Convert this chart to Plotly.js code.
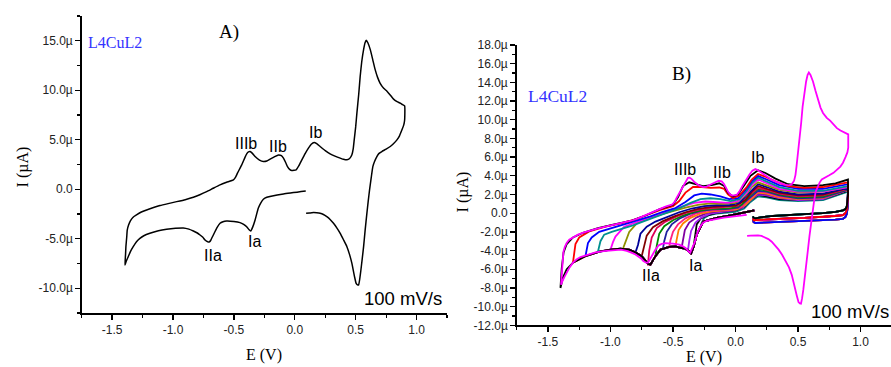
<!DOCTYPE html>
<html><head><meta charset="utf-8">
<script src="https://cdn.plot.ly/plotly-3.0.1.min.js"></script>
<style>html,body{margin:0;padding:0;background:#fff;} #chart{width:891px;height:367px;}</style>
</head><body><div id="chart"></div>
<script>
// ---------- Panel A (and the magenta full scan of panel B) ----------
const aE = [0.09,-0.093,-0.23,-0.258,-0.28,-0.30,-0.326,-0.345,-0.362,-0.375,-0.395,-0.42,-0.45,-0.50,-0.56,-0.59,-0.614,-0.64,-0.669,-0.69,-0.70,-0.715,-0.737,-0.755,-0.778,-0.80,-0.833,-0.87,-0.916,-0.98,-1.053,-1.12,-1.19,-1.24,-1.272,-1.30,-1.327,-1.35,-1.368,-1.385,-1.395,
 -1.39,-1.387,-1.38,-1.376,-1.365,-1.349,-1.33,-1.30,-1.26,-1.217,-1.16,-1.107,-1.04,-0.97,-0.9,-0.833,-0.78,-0.724,-0.67,-0.614,-0.56,-0.504,-0.485,-0.471,-0.436,-0.41,-0.395,-0.38,-0.367,-0.35,-0.326,-0.29,-0.258,-0.23,-0.203,-0.165,-0.134,-0.11,-0.093,-0.075,-0.06,-0.04,-0.025,0.011,0.035,0.058,0.085,0.112,0.135,0.159,0.18,0.208,0.25,0.29,0.33,0.373,0.40,0.428,0.45,0.469,0.48,0.488,0.50,0.51,0.525,0.537,0.55,0.565,0.577,0.587,0.60,0.62,0.64,0.66,0.68,0.70,0.73,0.757,0.785,0.811,0.84,0.866,0.885,0.902,
 0.902,0.895,0.88,0.86,0.839,0.81,0.784,0.75,0.715,0.69,0.674,0.655,0.641,0.628,0.614,0.603,0.592,0.578,0.565,0.553,0.543,0.533,0.524,0.515,0.504,0.49,0.469,0.45,0.428,0.40,0.373,0.345,0.318,0.29,0.263,0.235,0.208,0.18,0.154,0.12,0.093];
const aI = [-0.17,-0.47,-0.81,-1.01,-1.4,-1.92,-3.1,-3.8,-4.22,-4.1,-3.78,-3.55,-3.37,-3.25,-3.2,-3.28,-3.44,-3.9,-4.62,-5.15,-5.3,-5.3,-5.13,-4.85,-4.62,-4.42,-4.22,-4.03,-3.91,-3.95,-4.05,-4.2,-4.45,-4.7,-4.96,-5.3,-5.8,-6.3,-6.82,-7.3,-7.66,
 -6.6,-5.8,-4.8,-4.12,-3.6,-3.17,-2.85,-2.6,-2.3,-2.09,-1.85,-1.65,-1.45,-1.25,-1.05,-0.81,-0.55,-0.24,0.1,0.44,0.7,0.94,1.25,1.62,2.46,3.2,3.58,3.78,3.81,3.65,3.3,2.95,2.8,2.85,3.04,3.3,3.47,3.4,3.14,2.7,2.29,1.98,1.89,1.96,2.4,2.97,3.6,4.15,4.55,4.72,4.6,4.32,3.9,3.58,3.35,3.14,3.02,2.97,3.1,3.48,4.1,4.99,6.3,7.69,9.6,11.4,12.9,14.1,14.8,15.05,14.8,14.1,13.1,12.08,11.3,10.73,10.2,9.9,9.5,9.1,8.85,8.7,8.55,8.43,
 7.0,6.5,6.0,5.4,4.99,4.6,4.32,4.05,3.81,3.6,3.3,2.8,2.29,1.2,-0.07,-1.2,-2.43,-4.1,-5.8,-7.1,-8.16,-9.1,-9.68,-9.65,-9.51,-8.8,-7.49,-6.6,-5.8,-5.1,-4.45,-3.9,-3.44,-3.05,-2.77,-2.55,-2.43,-2.38,-2.36,-2.4,-2.43];

// ---------- Panel B: shared cathodic envelope (0.15 V -> -1.4 V) ----------
const envE = [0.15,0.05,-0.05,-0.15,-0.22,-0.256,-0.28,-0.31,-0.335,-0.355,-0.37,-0.40,-0.44,-0.48,-0.53,-0.58,-0.60,-0.64,-0.68,-0.70,-0.75,-0.80,-0.85,-0.92,-1.00,-1.08,-1.20,-1.30,-1.35,-1.38,-1.40];
const envI = [0.3,0.0,-0.25,-0.5,-0.75,-0.9,-1.5,-2.3,-3.6,-4.3,-4.1,-3.8,-3.7,-3.55,-3.6,-3.8,-3.9,-4.6,-5.5,-5.4,-4.6,-4.2,-3.9,-3.8,-3.9,-4.1,-4.6,-5.3,-6.0,-6.9,-8.0];

// return branch 0.9 V -> 0.14 V (three observed levels of the band)
const retE  = [0.9,0.897,0.89,0.88,0.86,0.8,0.7,0.55,0.41,0.3,0.2,0.16,0.145,0.14];
const retIa = [1.9,1.2,0.7,0.45,0.3,0.15,0.0,-0.1,-0.2,-0.3,-0.45,-0.55,-0.5,-0.35];
const retIb = [1.6,0.9,0.3,0.0,-0.2,-0.3,-0.4,-0.5,-0.55,-0.65,-0.75,-0.8,-0.75,-0.55];
const retIc = [1.2,0.5,-0.1,-0.4,-0.6,-0.7,-0.75,-0.82,-0.9,-0.95,-1.0,-1.05,-0.95,-0.7];

// upper (reverse) branches, from switching potential to 0.9 V
const c1E = [-1.40,-1.39,-1.375,-1.35,-1.30,-1.22,-1.10,-0.97,-0.83,-0.72,-0.61,-0.50,-0.46,-0.42,-0.37,-0.32,-0.26,-0.19,-0.13,-0.09,-0.06,-0.02,0.02,0.07,0.12,0.18,0.24,0.32,0.42,0.55,0.7,0.8,0.9];
const c1I = [-8.0,-5.9,-4.2,-3.3,-2.6,-2.1,-1.6,-1.2,-0.8,-0.25,0.4,0.9,1.7,2.9,3.3,3.1,2.9,3.0,3.2,2.9,2.2,1.8,2.0,3.0,4.0,4.6,4.3,3.7,3.1,2.9,3.0,3.2,3.6];
const c2E = [-1.30,-1.28,-1.25,-1.17,-1.04,-0.91,-0.80,-0.70,-0.60,-0.50,-0.45,-0.40,-0.34,-0.27,-0.20,-0.13,-0.09,-0.06,-0.02,0.03,0.09,0.13,0.18,0.24,0.32,0.42,0.55,0.7,0.9];
const c2I = [-5.3,-3.3,-2.6,-1.95,-1.45,-1.07,-0.65,-0.15,0.35,0.75,1.3,2.2,2.8,2.8,2.7,2.75,2.6,2.0,1.6,1.9,2.8,3.6,4.2,3.9,3.4,2.9,2.7,2.8,3.3];
const c3E = [-1.20,-1.18,-1.15,-1.09,-0.98,-0.88,-0.78,-0.68,-0.58,-0.48,-0.40,-0.33,-0.27,-0.20,-0.12,-0.05,0.02,0.08,0.13,0.18,0.25,0.35,0.5,0.7,0.9];
const c3I = [-4.6,-3.2,-2.6,-2.0,-1.55,-1.2,-0.8,-0.35,0.15,0.55,1.2,1.9,2.1,2.0,1.8,1.5,1.6,2.5,3.4,4.0,3.6,3.0,2.6,2.6,3.1];
const c4E = [-1.10,-1.08,-1.05,-0.99,-0.91,-0.82,-0.72,-0.62,-0.52,-0.44,-0.36,-0.28,-0.20,-0.12,-0.04,0.03,0.09,0.13,0.18,0.25,0.35,0.5,0.7,0.9];
const c4I = [-4.1,-3.0,-2.3,-2.0,-1.7,-1.3,-0.8,-0.3,0.2,0.6,1.1,1.5,1.6,1.5,1.3,1.5,2.4,3.2,3.8,3.4,2.8,2.4,2.4,2.9];
const c5E = [-1.00,-0.98,-0.96,-0.89,-0.80,-0.70,-0.60,-0.50,-0.42,-0.33,-0.24,-0.15,-0.06,0.02,0.09,0.13,0.18,0.25,0.35,0.5,0.7,0.9];
const c5I = [-3.9,-3.1,-2.5,-1.45,-1.0,-0.55,-0.05,0.4,0.75,1.1,1.25,1.2,1.1,1.3,2.2,3.0,3.6,3.2,2.6,2.3,2.3,2.8];
const c6E = [-0.90,-0.88,-0.85,-0.79,-0.70,-0.60,-0.50,-0.40,-0.30,-0.20,-0.10,0.0,0.08,0.13,0.18,0.25,0.35,0.5,0.7,0.9];
const c6I = [-3.8,-3.0,-2.0,-1.1,-0.6,-0.15,0.25,0.6,0.9,1.05,1.0,1.1,1.9,2.8,3.3,3.0,2.5,2.2,2.3,2.8];
const c7E = [-0.80,-0.78,-0.76,-0.71,-0.64,-0.55,-0.45,-0.35,-0.25,-0.15,-0.05,0.03,0.10,0.18,0.25,0.35,0.5,0.7,0.9];
const c7I = [-4.2,-3.4,-2.2,-1.45,-0.9,-0.4,0.1,0.5,0.75,0.85,0.85,1.1,2.0,3.1,2.8,2.3,2.0,2.1,2.7];
const c8E = [-0.75,-0.73,-0.71,-0.66,-0.58,-0.49,-0.40,-0.30,-0.20,-0.10,0.0,0.08,0.13,0.18,0.25,0.35,0.5,0.7,0.9];
const c8I = [-4.6,-3.5,-2.4,-1.5,-0.85,-0.35,0.1,0.45,0.65,0.75,0.8,1.4,2.3,2.9,2.6,2.2,1.9,2.0,2.7];
const c9E = [-0.70,-0.69,-0.67,-0.63,-0.56,-0.47,-0.38,-0.28,-0.18,-0.08,0.02,0.10,0.18,0.25,0.35,0.5,0.7,0.9];
const c9I = [-5.5,-4.0,-2.6,-1.6,-0.9,-0.35,0.1,0.4,0.55,0.65,0.8,1.8,2.7,2.5,2.1,1.8,1.9,2.6];
const c10E = [-0.64,-0.63,-0.61,-0.57,-0.50,-0.42,-0.33,-0.23,-0.13,-0.03,0.05,0.11,0.18,0.25,0.35,0.5,0.7,0.9];
const c10I = [-4.6,-3.5,-2.2,-1.4,-0.75,-0.25,0.15,0.4,0.5,0.55,0.9,1.8,2.6,2.4,2.0,1.7,1.8,2.6];
const c11E = [-0.58,-0.57,-0.55,-0.51,-0.45,-0.37,-0.28,-0.18,-0.08,0.02,0.10,0.18,0.25,0.35,0.5,0.7,0.9];
const c11I = [-3.8,-3.0,-2.0,-1.2,-0.6,-0.1,0.25,0.4,0.45,0.6,1.5,2.4,2.3,1.9,1.6,1.7,2.5];
const c12E = [-0.53,-0.52,-0.50,-0.46,-0.40,-0.32,-0.23,-0.13,-0.03,0.05,0.11,0.18,0.25,0.35,0.5,0.7,0.9];
const c12I = [-3.6,-2.9,-2.0,-1.2,-0.55,-0.05,0.25,0.35,0.4,0.7,1.5,2.3,2.2,1.8,1.6,1.7,2.5];
const c13E = [-0.48,-0.47,-0.455,-0.42,-0.36,-0.28,-0.19,-0.09,0.01,0.08,0.13,0.18,0.25,0.35,0.5,0.7,0.9];
const c13I = [-3.55,-2.8,-1.8,-1.1,-0.5,-0.05,0.2,0.3,0.4,0.9,1.6,2.2,2.1,1.7,1.5,1.6,2.5];
const c14E = [-0.43,-0.42,-0.405,-0.37,-0.31,-0.23,-0.14,-0.04,0.04,0.10,0.18,0.25,0.35,0.5,0.7,0.9];
const c14I = [-3.65,-2.8,-1.8,-1.0,-0.45,0.0,0.2,0.3,0.5,1.2,2.1,2.0,1.7,1.5,1.6,2.5];
const c15E = [-0.38,-0.37,-0.355,-0.32,-0.27,-0.20,-0.11,-0.02,0.06,0.12,0.18,0.25,0.35,0.5,0.7,0.9];
const c15I = [-3.95,-3.0,-1.9,-1.0,-0.45,-0.05,0.15,0.3,0.6,1.4,2.0,1.9,1.6,1.4,1.5,2.5];
const c16E = [-0.335,-0.325,-0.31,-0.28,-0.23,-0.16,-0.08,0.0,0.07,0.12,0.18,0.25,0.35,0.5,0.7,0.9];
const c16I = [-3.6,-2.5,-1.2,-0.6,-0.25,0.0,0.15,0.3,0.7,1.4,1.95,1.8,1.5,1.4,1.5,2.4];
const c17E = [-0.28,-0.27,-0.25,-0.21,-0.15,-0.07,0.0,0.07,0.12,0.18,0.25,0.35,0.5,0.7,0.9];
const c17I = [-1.5,-1.0,-0.5,-0.2,-0.05,0.05,0.15,0.5,1.2,1.8,1.7,1.4,1.3,1.4,2.3];

const bColors = ['#000000','#ff0000','#0000ff','#009090','#ff00ff','#909000','#000099','#800000','#dd0055','#008800','#2020a0','#ff2080','#ff8000','#8000a0','#a020f0','#000000','#008080'];

// ---------- tick labels ----------
const xTickVals = [-1.5,-1.0,-0.5,0.0,0.5,1.0];
const xTickText = ['-1.5','-1.0','-0.5','0.0','0.5','1.0'];
const aYTickVals = [-10,-5,0,5,10,15];
const aYTickText = ['-10.0\u00b5','-5.0\u00b5','0.0','5.0\u00b5','10.0\u00b5','15.0\u00b5'];
const bYTickVals = [-12,-10,-8,-6,-4,-2,0,2,4,6,8,10,12,14,16,18];
const bYTickText = ['-12.0\u00b5','-10.0\u00b5','-8.0\u00b5','-6.0\u00b5','-4.0\u00b5','-2.0\u00b5','0.0','2.0\u00b5','4.0\u00b5','6.0\u00b5','8.0\u00b5','10.0\u00b5','12.0\u00b5','14.0\u00b5','16.0\u00b5','18.0\u00b5'];

// ---------- build traces ----------
const ups = [[c1E,c1I],[c2E,c2I],[c3E,c3I],[c4E,c4I],[c5E,c5I],[c6E,c6I],[c7E,c7I],[c8E,c8I],[c9E,c9I],[c10E,c10I],[c11E,c11I],[c12E,c12I],[c13E,c13I],[c14E,c14I],[c15E,c15I],[c16E,c16I],[c17E,c17I]];
const rets = [retIa, retIb, retIc];
function buildCurve(upE, upI, retI) {
  const E = [], I = [];
  const es = upE[0];
  for (let k = 0; k < envE.length; k++) if (envE[k] > es) { E.push(envE[k]); I.push(envI[k]); }
  for (let k = 0; k < upE.length; k++) { E.push(upE[k]); I.push(upI[k]); }
  for (let k = 0; k < retE.length; k++) { E.push(retE[k]); I.push(retI[k]); }
  return [E, I];
}
const traces = [];
traces.push({x: aE, y: aI, xaxis: 'x', yaxis: 'y', mode: 'lines', line: {color: '#000', width: 1.5, shape: 'spline', smoothing: 0.4}, hoverinfo: 'skip'});
for (let i = ups.length - 1; i >= 0; i--) {
  const [E, I] = buildCurve(ups[i][0], ups[i][1], rets[i % 3]);
  traces.push({x: E, y: I, xaxis: 'x2', yaxis: 'y2', mode: 'lines', line: {color: bColors[i], width: 1.8}, hoverinfo: 'skip'});
}
traces.push({x: aE, y: aI, xaxis: 'x2', yaxis: 'y2', mode: 'lines', line: {color: '#ff00ff', width: 1.8}, hoverinfo: 'skip'});

// ---------- layout ----------
const W = 891, H = 367;
const px = (x) => x / W, py = (y) => 1 - y / H;
const tickFont = {family: 'Liberation Sans, Arial, sans-serif', size: 12, color: '#222'};
const serif = 'Liberation Serif, Times New Roman, serif';
const sans = 'Liberation Sans, Arial, sans-serif';
function axX(dom, range) {
  return {domain: dom, range: range, showgrid: false, zeroline: false, showline: true, linecolor: '#000', linewidth: 1.5,
    ticks: 'outside', ticklen: 5, tickwidth: 1.3, tickcolor: '#000', tickmode: 'array', tickvals: xTickVals, ticktext: xTickText,
    tickfont: tickFont, minor: {dtick: 0.25, tick0: 0, ticks: 'outside', ticklen: 3, tickwidth: 1.2, tickcolor: '#000'}};
}
function axY(dom, range, tv, tt, minorD) {
  return {domain: dom, range: range, showgrid: false, zeroline: false, showline: true, linecolor: '#000', linewidth: 1.5,
    ticks: 'outside', ticklen: 5, tickwidth: 1.3, tickcolor: '#000', tickmode: 'array', tickvals: tv, ticktext: tt,
    tickfont: tickFont, minor: {dtick: minorD, tick0: 0, ticks: 'outside', ticklen: 3, tickwidth: 1.2, tickcolor: '#000'}};
}
function ann(text, x, y, font, extra) {
  return Object.assign({text: text, x: px(x), y: py(y), xref: 'paper', yref: 'paper', showarrow: false,
    xanchor: 'center', yanchor: 'middle', font: font}, extra || {});
}
const lab = {family: sans, size: 16, color: '#000'};
const annotations = [
  ann('A)', 229, 32, {family: serif, size: 19, color: '#000'}),
  ann('L4CuL2', 86, 43, {family: serif, size: 16, color: '#3333ff'}, {xanchor: 'left'}),
  ann('100 mV/s', 402.5, 298, {family: sans, size: 18.5, color: '#000'}),
  ann('IIIb', 245.5, 143.3, lab),
  ann('IIb', 278.3, 146.7, lab),
  ann('Ib', 315, 132.7, lab),
  ann('Ia', 254.5, 241, lab),
  ann('IIa', 213.3, 255, lab),
  ann('I (\u00b5A)', 22.7, 166.7, {family: serif, size: 16, color: '#000'}, {textangle: -90}),
  ann('E (V)', 263.7, 355, {family: serif, size: 16, color: '#000'}),
  ann('B)', 681.7, 74, {family: serif, size: 19, color: '#000'}),
  ann('L4CuL2', 526, 95.7, {family: serif, size: 17.5, color: '#3333ff'}, {xanchor: 'left'}),
  ann('100 mV/s', 850.3, 311.7, {family: sans, size: 18.5, color: '#000'}),
  ann('IIIb', 684.5, 170, lab),
  ann('IIb', 721.5, 172.3, lab),
  ann('Ib', 757, 157.3, lab),
  ann('Ia', 695, 265, lab),
  ann('IIa', 650.5, 275.3, lab),
  ann('I (\u00b5A)', 462.7, 191.7, {family: serif, size: 16, color: '#000'}, {textangle: -90}),
  ann('E (V)', 703.8, 357, {family: serif, size: 16, color: '#000'})
];
const layout = {
  width: W, height: H, margin: {l: 0, r: 0, t: 0, b: 0}, showlegend: false,
  paper_bgcolor: '#fff', plot_bgcolor: '#fff',
  xaxis: axX([px(81.7), px(447)], [-1.75, 1.25]),
  yaxis: axY([py(313), py(16)], [-12.5, 17.5], aYTickVals, aYTickText, 2.5),
  xaxis2: Object.assign(axX([px(516.7), 1], [-1.75, 1.244]), {anchor: 'y2'}),
  yaxis2: Object.assign(axY([py(325.3), py(45)], [-12, 18], bYTickVals, bYTickText, 1), {anchor: 'x2'}),
  annotations: annotations
};
layout.xaxis.anchor = 'y';
layout.yaxis.anchor = 'x';
Plotly.newPlot('chart', traces, layout, {displayModeBar: false, staticPlot: true});
</script></body></html>
